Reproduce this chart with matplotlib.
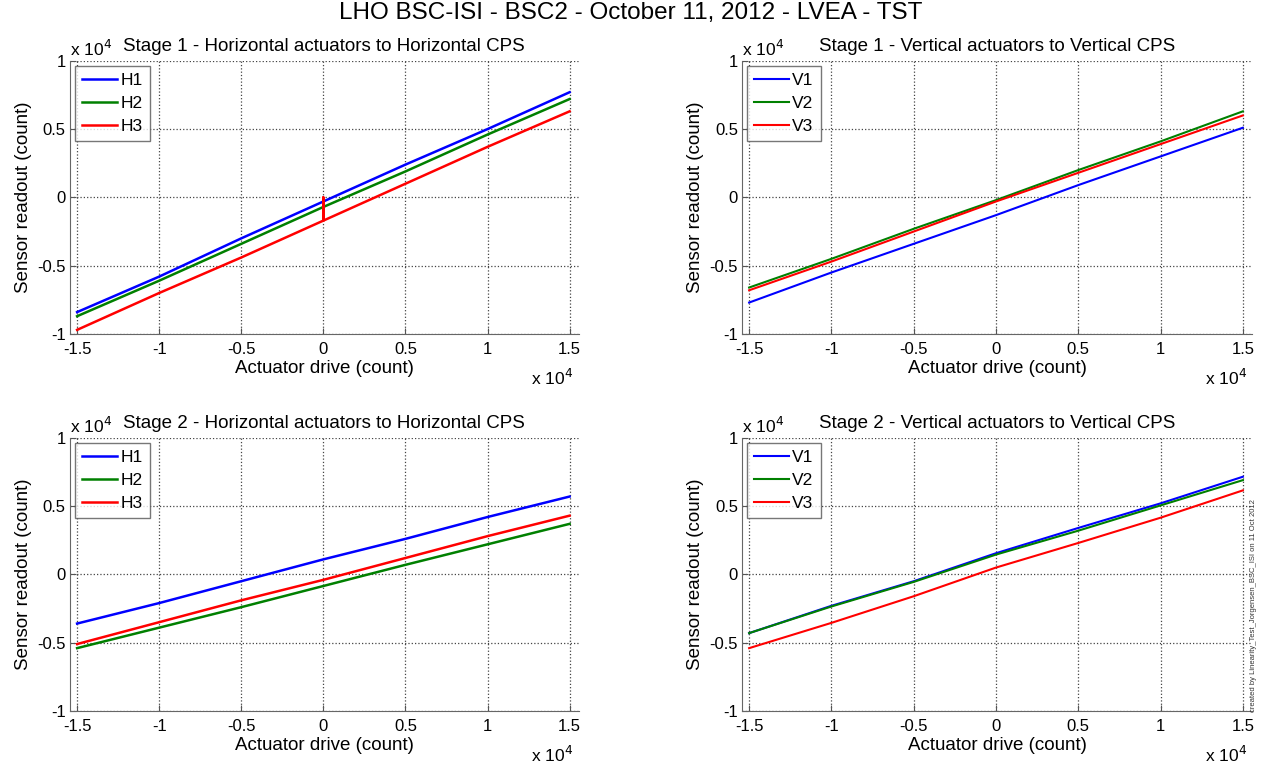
import numpy as np
import matplotlib
matplotlib.use("Agg")
import matplotlib.pyplot as plt

plt.rcParams['font.family'] = ['Liberation Sans', 'DejaVu Sans']

# drive points (x 10^4 counts)
drive = [-1.5, -1.0, -0.5, 0.0, 0.5, 1.0, 1.5]

# Stage 1 horizontal (x 10^4 counts)
s1_h1 = [-0.84, -0.58, -0.30, -0.03, 0.24, 0.50, 0.77]
s1_h2 = [-0.87, -0.61, -0.34, -0.07, 0.19, 0.46, 0.72]
# H3 starts at 0 with a jump
s1_h3_x = [-1.5, -1.0, -0.5, 0.0, 0.0, 0.0, 0.5, 1.0, 1.5]
s1_h3 = [-0.97, -0.70, -0.44, -0.17, 0.0, -0.17, 0.10, 0.37, 0.63]

# Stage 1 vertical
s1_v1 = [-0.77, -0.55, -0.34, -0.13, 0.09, 0.30, 0.51]
s1_v2 = [-0.66, -0.45, -0.23, -0.02, 0.20, 0.41, 0.63]
s1_v3 = [-0.68, -0.47, -0.25, -0.03, 0.18, 0.39, 0.60]

# Stage 2 horizontal
s2_h1 = [-0.36, -0.21, -0.05, 0.11, 0.26, 0.42, 0.57]
s2_h2 = [-0.54, -0.39, -0.24, -0.085, 0.07, 0.22, 0.37]
s2_h3 = [-0.51, -0.35, -0.19, -0.04, 0.12, 0.28, 0.43]

# Stage 2 vertical
s2_v1 = [-0.43, -0.23, -0.05, 0.155, 0.34, 0.52, 0.715]
s2_v2 = [-0.43, -0.235, -0.055, 0.145, 0.32, 0.505, 0.69]
s2_v3 = [-0.54, -0.355, -0.16, 0.05, 0.23, 0.415, 0.615]

xticks = [-1.5, -1, -0.5, 0, 0.5, 1, 1.5]
xticklabels = ['-1.5', '-1', '-0.5', '0', '0.5', '1', '1.5']
yticks = [-1, -0.5, 0, 0.5, 1]
yticklabels = ['-1', '-0.5', '0', '0.5', '1']

colors = ['#0000ff', '#008000', '#ff0000']

fig = plt.figure(figsize=(12.62, 7.63), dpi=100)
fig.text(0.5, 0.983, 'LHO BSC-ISI - BSC2 - October 11, 2012 - LVEA - TST',
         ha='center', va='center', fontsize=17.5)

panels = [
    ([0.0555, 0.5623, 0.403, 0.358], 'Stage 1 - Horizontal actuators to Horizontal CPS',
     [(drive, s1_h1, 'H1'), (drive, s1_h2, 'H2'), (s1_h3_x, s1_h3, 'H3')], 1.8),
    ([0.588, 0.5623, 0.404, 0.358], 'Stage 1 - Vertical actuators to Vertical CPS',
     [(drive, s1_v1, 'V1'), (drive, s1_v2, 'V2'), (drive, s1_v3, 'V3')], 1.5),
    ([0.0555, 0.0682, 0.403, 0.358], 'Stage 2 - Horizontal actuators to Horizontal CPS',
     [(drive, s2_h1, 'H1'), (drive, s2_h2, 'H2'), (drive, s2_h3, 'H3')], 1.8),
    ([0.588, 0.0682, 0.404, 0.358], 'Stage 2 - Vertical actuators to Vertical CPS',
     [(drive, s2_v1, 'V1'), (drive, s2_v2, 'V2'), (drive, s2_v3, 'V3')], 1.5),
]

for rect, title, series, lw in panels:
    ax = fig.add_axes(rect)
    for (xs, ys, lab), c in zip(series, colors):
        ax.plot(xs, ys, color=c, lw=lw, label=lab)
    ax.set_xlim(-1.543, 1.555)
    ax.set_ylim(-1, 1)
    ax.set_xticks(xticks)
    ax.set_xticklabels(xticklabels)
    ax.set_yticks(yticks)
    ax.set_yticklabels(yticklabels)
    ax.tick_params(direction='in', labelsize=12, length=4, color='#555555')
    ax.tick_params(axis='x', pad=6)
    ax.tick_params(axis='y', pad=3)
    ax.spines['top'].set_visible(False)
    ax.spines['right'].set_visible(False)
    ax.spines['left'].set_color('#666666')
    ax.spines['bottom'].set_color('#666666')
    ax.grid(True, ls=':', color='#444444', lw=0.9)
    ax.set_xlabel('Actuator drive (count)', fontsize=13.5, labelpad=2)
    ax.set_ylabel('Sensor readout (count)', fontsize=13.5, labelpad=4)
    ax.set_title(title, fontsize=13.5, pad=7)
    ax.text(0.0, 1.008, r'x 10$^4$', transform=ax.transAxes, fontsize=12.5,
            ha='left', va='bottom')
    ax.text(0.99, -0.125, r'x 10$^4$', transform=ax.transAxes, fontsize=12.5,
            ha='right', va='top')
    leg = ax.legend(loc='upper left', fontsize=12.5, frameon=True, fancybox=False,
                    borderaxespad=0.3, handlelength=2.0, handletextpad=0.2,
                    labelspacing=0.45, borderpad=0.4)
    leg.get_frame().set_edgecolor('#555555')
    leg.get_frame().set_linewidth(1.0)

fig.text(0.993, 0.206, 'created by Linearity_Test_Jorgensen_BSC_ISI on 11 Oct 2012',
         rotation=90, ha='center', va='center', fontsize=5.5, color='#333333')

fig.savefig('out.png', dpi=100)
